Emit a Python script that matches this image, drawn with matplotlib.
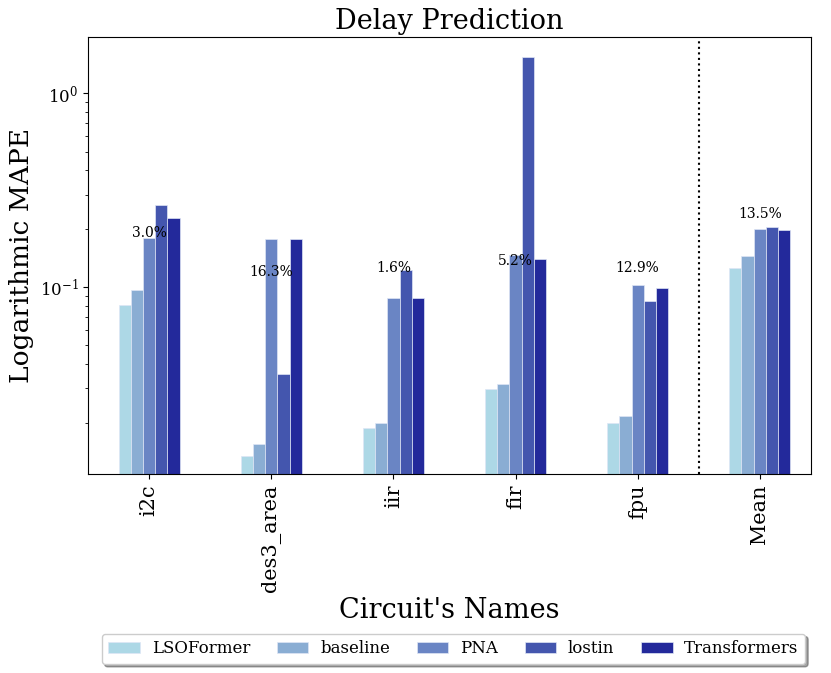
import numpy as np
import matplotlib
matplotlib.use('Agg')
import matplotlib.pyplot as plt

# circuits and models
circuits = ['i2c', 'des3_area', 'iir', 'fir', 'fpu', 'Mean']
models = ['LSOFormer', 'baseline', 'PNA', 'lostin', 'Transformers']
colors = ['#ADD8E6', '#8AADD3', '#6A85C4', '#4456AE', '#23299B']

# MAPE values per model (one entry per circuit)
lsoformer = [0.0804, 0.0135, 0.0188, 0.0299, 0.0198, 0.126]
baseline = [0.0962, 0.0155, 0.0198, 0.0315, 0.0216, 0.144]
pna = [0.179, 0.176, 0.0878, 0.146, 0.1024, 0.199]
lostin = [0.264, 0.0357, 0.123, 1.54, 0.0847, 0.205]
transformers = [0.2285, 0.176, 0.0878, 0.140, 0.0993, 0.197]

# improvement labels and their heights
gain_labels = ['3.0%', '16.3%', '1.6%', '5.2%', '12.9%', '13.5%']
gain_y = [0.190, 0.1196, 0.1254, 0.136, 0.125, 0.2376]

series = [lsoformer, baseline, pna, lostin, transformers]

fig, ax = plt.subplots(figsize=(8.31, 6.73), dpi=100)
fig.subplots_adjust(left=0.106, right=0.976, top=0.945, bottom=0.295)

x = np.arange(len(circuits))
width = 0.1
for i, vals in enumerate(series):
    ax.bar(x + (i - 2) * width, vals, width, color=colors[i], label=models[i],
           edgecolor='#dfe6f5', linewidth=0.5)

for xi, txt, yy in zip(x, gain_labels, gain_y):
    ax.text(xi, yy, txt, ha='center', va='center', fontsize=10, family='DejaVu Serif')

ax.axvline(4.5, color='black', linestyle=':', linewidth=1.5)

ax.set_yscale('log')
ax.set_ylim(0.0108, 1.95)
ax.set_xlim(-0.5, 5.42)
ax.set_xticks(x)
ax.set_xticklabels(circuits, rotation=90, fontsize=15, family='DejaVu Serif')
for lbl in ax.get_yticklabels():
    lbl.set_family('DejaVu Serif')
ax.tick_params(axis='y', labelsize=12)

ax.set_title('Delay Prediction', fontsize=19.5, family='DejaVu Serif')
ax.set_ylabel('Logarithmic MAPE', fontsize=19, family='DejaVu Serif')
ax.set_xlabel("Circuit's Names", fontsize=19.5, family='DejaVu Serif')

ax.legend(loc='upper center', bbox_to_anchor=(0.5055, -0.345), ncol=5, shadow=True,
          prop={'family': 'DejaVu Serif', 'size': 12},
          handlelength=1.9, handletextpad=0.7, columnspacing=1.6, fancybox=True)

fig.savefig('out.png', dpi=100)
